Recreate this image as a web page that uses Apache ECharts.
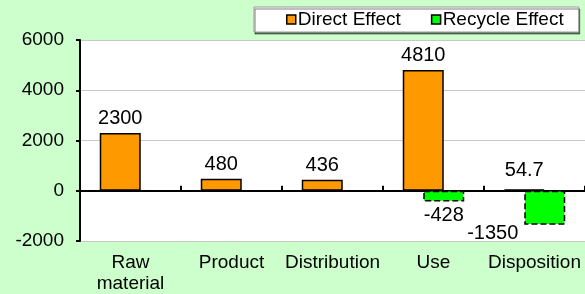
<!DOCTYPE html>
<html>
<head>
<meta charset="utf-8">
<script src="https://cdn.jsdelivr.net/npm/echarts@6/dist/echarts.min.js"></script>
<style>
  html, body { margin: 0; padding: 0; background: #ccffcc; }
  #chart { width: 585px; height: 294px; }
</style>
</head>
<body>
<div id="chart"></div>
<script>
// 数据
var categories = ["Raw\nmaterial", "Product", "Distribution", "Use", "Disposition"];
var directEffect = [2300, 480, 436, 4810, 54.7];
var recycleEffect = ["-", "-", "-", -428, -1350];
var yTicks = { min: -2000, max: 6000, interval: 2000 };

var chart = echarts.init(document.getElementById("chart"));

// 个别标签位置微调
var directData = directEffect.map(function (v, i) {
  if (i === 4) return { value: v, label: { offset: [0, -5] } };
  return v;
});
var recycleData = recycleEffect.map(function (v, i) {
  if (i === 4) return { value: v, label: { offset: [-52, -5] } };
  return v;
});

var option = {
  backgroundColor: "#ccffcc",
  animation: false,
  textStyle: { fontFamily: "Liberation Sans, Arial, sans-serif", color: "#000" },
  legend: {
    left: 254,
    top: 7,
    padding: [3, 15, 3, 32],
    itemGap: 30,
    itemWidth: 9,
    itemHeight: 9,
    icon: "rect",
    backgroundColor: "#fff",
    borderColor: "#999",
    borderWidth: 1,
    shadowColor: "rgba(0,0,0,0.5)",
    shadowOffsetX: 1,
    shadowOffsetY: 2,
    itemStyle: { borderColor: "#000", borderWidth: 1.5 },
    textStyle: { fontSize: 19, color: "#000", padding: [0, 0, 0, -3] },
    data: ["Direct Effect", "Recycle Effect"]
  },
  grid: {
    left: 80,
    top: 40,
    bottom: 53,
    right: -3,
    show: true,
    backgroundColor: "#fff",
    borderWidth: 0
  },
  xAxis: [
    {
      type: "category",
      data: categories,
      axisLine: { show: true, onZero: true, lineStyle: { color: "#000", width: 2 } },
      axisTick: { show: true, inside: true, interval: 0, length: 5, lineStyle: { color: "#000", width: 2 } },
      axisLabel: { show: false }
    },
    {
      type: "category",
      data: categories,
      position: "bottom",
      axisLine: { show: false, onZero: false },
      axisTick: { show: false },
      axisLabel: { interval: 0, fontSize: 19, color: "#000", margin: 11, lineHeight: 21 }
    }
  ],
  yAxis: {
    type: "value",
    min: yTicks.min,
    max: yTicks.max,
    interval: yTicks.interval,
    axisLine: { show: true, onZero: false, lineStyle: { color: "#000", width: 2 } },
    axisTick: { show: true, length: 4, lineStyle: { color: "#000", width: 2 } },
    axisLabel: { fontSize: 19, color: "#000", margin: 16, formatter: function (v) { return String(v); } },
    splitLine: { lineStyle: { color: "#c8c8c8" } }
  },
  series: [
    {
      name: "Direct Effect",
      type: "bar",
      xAxisIndex: 0,
      barWidth: 41,
      barGap: "-50%",
      data: directData,
      itemStyle: { color: "#ff9900", borderColor: "#000", borderWidth: 1.5 },
      label: { show: true, position: "top", fontSize: 20, color: "#000", distance: 4 }
    },
    {
      name: "Recycle Effect",
      type: "bar",
      xAxisIndex: 0,
      barWidth: 41,
      data: recycleData,
      itemStyle: { color: "#00ff00", borderColor: "#000", borderWidth: 1.5, borderType: "dashed" },
      label: { show: true, position: "bottom", fontSize: 20, color: "#000", distance: 4 }
    }
  ]
};

chart.setOption(option);
</script>
</body>
</html>
